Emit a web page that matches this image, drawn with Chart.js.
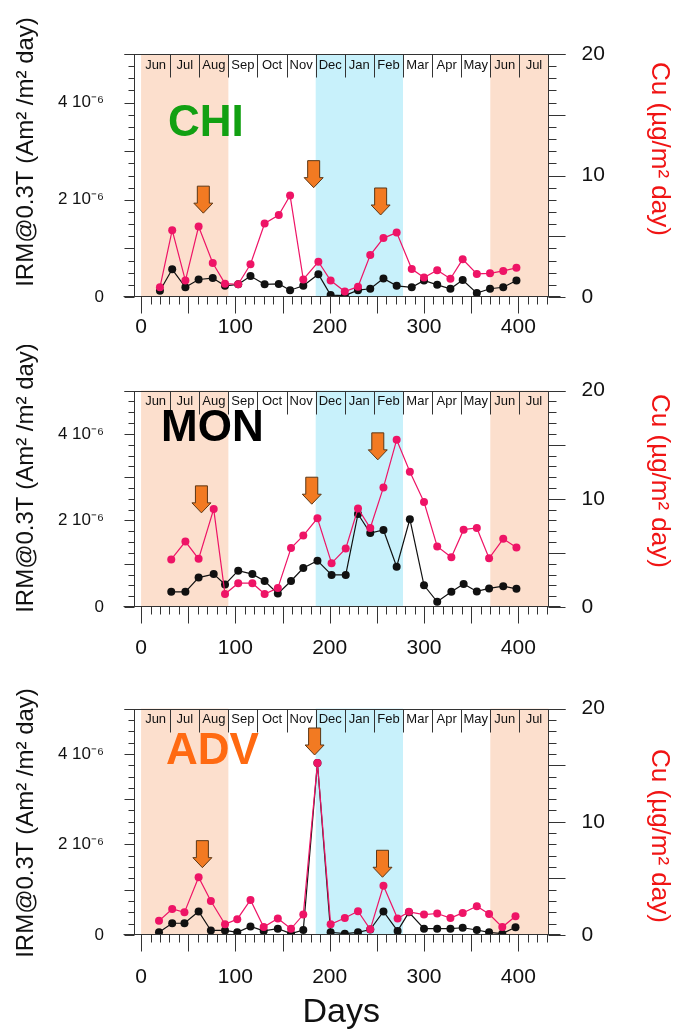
<!DOCTYPE html>
<html>
<head>
<meta charset="utf-8">
<script src="https://cdn.jsdelivr.net/npm/chart.js@4.4.1/dist/chart.umd.min.js"></script>
<style>
html, body { margin: 0; padding: 0; background: #fff; }
#wrap { position: relative; width: 676px; height: 1033px; overflow: hidden; }
canvas { position: absolute; left: 0; }
</style>
</head>
<body>
<div id="wrap">
  <canvas id="chi" width="676" height="345" style="top:0px"></canvas>
  <canvas id="mon" width="676" height="318" style="top:345px"></canvas>
  <canvas id="adv" width="676" height="370" style="top:663px"></canvas>
</div>
<script>
// sampling days and fluxes
// IRM values are in units of 10^-6 Am2/m2/day, Cu in ug/m2/day
const daysCHI = [20, 33, 47, 61, 76, 89, 103, 116, 131, 146, 158, 172, 188, 201, 216, 230, 243, 257, 271, 287, 300, 314, 328, 341, 356, 370, 384, 398];
const cuCHI   = [0.8, 5.5, 1.35, 5.8, 2.8, 1.1, 1.05, 2.7, 6.05, 6.75, 8.35, 1.45, 2.9, 1.35, 0.45, 0.85, 3.45, 4.85, 5.3, 2.3, 1.6, 2.2, 1.5, 3.1, 1.9, 1.95, 2.15, 2.4];
const irmCHI  = [0.13, 0.57, 0.2, 0.36, 0.39, 0.23, 0.26, 0.43, 0.26, 0.27, 0.14, 0.23, 0.47, 0.04, 0.03, 0.14, 0.17, 0.38, 0.23, 0.2, 0.34, 0.25, 0.17, 0.35, 0.08, 0.17, 0.2, 0.34];

const daysMON = [32, 47, 61, 77, 89, 103, 118, 131, 145, 159, 172, 187, 202, 217, 230, 243, 257, 271, 285, 300, 314, 329, 342, 356, 369, 384, 398];
const cuMON   = [4.4, 6.05, 4.45, 9.05, 1.2, 2.2, 2.2, 1.2, 1.75, 5.45, 6.6, 8.2, 4.05, 5.4, 9.1, 7.3, 11.05, 15.45, 12.5, 9.7, 5.6, 4.6, 7.15, 7.3, 4.5, 6.3, 5.5];
const irmMON  = [0.35, 0.35, 0.68, 0.76, 0.52, 0.84, 0.76, 0.6, 0.31, 0.6, 0.9, 1.07, 0.74, 0.74, 2.15, 1.71, 1.78, 0.93, 2.03, 0.5, 0.12, 0.35, 0.53, 0.36, 0.43, 0.48, 0.42];

const daysADV = [19, 33, 46, 61, 74, 89, 102, 116, 130, 145, 159, 172, 187, 201, 216, 230, 243, 257, 272, 284, 300, 314, 328, 341, 356, 369, 383, 397];
const cuADV   = [1.25, 2.3, 2.0, 5.1, 3.0, 0.95, 1.4, 3.1, 0.7, 1.45, 0.55, 1.8, 15.2, 0.95, 1.5, 2.1, 0.5, 4.35, 1.45, 2.05, 1.8, 1.9, 1.5, 1.95, 2.55, 1.85, 0.7, 1.65];
const irmADV  = [0.06, 0.26, 0.26, 0.52, 0.1, 0.1, 0.06, 0.19, 0.09, 0.14, 0.03, 0.11, 3.8, 0.06, 0.03, 0.06, 0.12, 0.52, 0.09, 0.5, 0.14, 0.14, 0.14, 0.16, 0.11, 0.06, 0.03, 0.17];

// arrows: day and Cu value of the tip
const arrowDaysCHI = [66, 183, 254];
const arrowCuCHI   = [6.9, 9.0, 6.75];
const arrowDaysMON = [64, 181, 251];
const arrowCuMON   = [8.7, 9.5, 13.6];
const arrowDaysADV = [65, 184, 256];
const arrowCuADV   = [5.95, 15.9, 5.1];

// axes
const dayTicks = [0, 100, 200, 300, 400];
const irmTicks = [0, 2, 4];
const irmTickLabels = ['0', '2 10\u207B\u2076', '4 10\u207B\u2076'];
const cuTicks = [0, 10, 20];
const months = ['Jun', 'Jul', 'Aug', 'Sep', 'Oct', 'Nov', 'Dec', 'Jan', 'Feb', 'Mar', 'Apr', 'May', 'Jun', 'Jul'];
// shaded periods as [first month index, end month index]
const summerBands = [[0, 3], [12, 14]];
const winterBands = [[6, 9]];

const DAY_MIN = -7.5, DAY_MAX = 432;
const MONTH_LEN = DAY_MAX / months.length;

const FONT = '"Liberation Sans", Arial, Helvetica, sans-serif';
const PINK = '#ee1466';
const PEACH = '#fcdfcd';
const SKY = '#c8f1fb';
const AXIS = '#333';

const decor = {
    id: 'decor',
    beforeDatasetsDraw(chart, args, o) {
        const ctx = chart.ctx, a = chart.chartArea, xs = chart.scales.x;
        ctx.save();
        const band = (b, color) => {
            const x1 = xs.getPixelForValue(b[0] * MONTH_LEN);
            const x2 = xs.getPixelForValue(b[1] * MONTH_LEN);
            ctx.fillStyle = color;
            ctx.fillRect(x1, a.top, x2 - x1, a.bottom - a.top);
        };
        summerBands.forEach(b => band(b, PEACH));
        winterBands.forEach(b => band(b, SKY));
        ctx.restore();
    },
    afterDraw(chart, args, o) {
        const ctx = chart.ctx, a = chart.chartArea;
        const xs = chart.scales.x, yl = chart.scales.yL, yr = chart.scales.yR;
        ctx.save();
        ctx.strokeStyle = AXIS;
        ctx.lineWidth = 1;
        const line = (x1, y1, x2, y2) => {
            ctx.beginPath();
            ctx.moveTo(x1, y1);
            ctx.lineTo(x2, y2);
            ctx.stroke();
        };
        const L = Math.round(a.left) + 0.5, R = Math.round(a.right) - 0.5;
        const T = Math.round(a.top) + 0.5, B = Math.round(a.bottom) - 0.5;

        // frame
        line(L - 11, B, R + 12, B);
        line(L - 10, T, R + 17, T);
        line(L, T, L, B);
        line(R, T, R, B);

        // tick marks
        for (let d = 0; d <= 430; d += 10) {
            const px = Math.round(xs.getPixelForValue(d)) + 0.5;
            line(px, B, px, B + (d % 50 === 0 ? 17 : 8));
        }
        for (let i = 0; i <= 20; i++) {
            const py = Math.round(yl.getPixelForValue(i * 0.25)) + 0.5;
            line(L - (i % 4 === 0 ? 10 : 6), py, L, py);
        }
        for (let i = 0; i <= 20; i++) {
            const py = Math.round(yr.getPixelForValue(i)) + 0.5;
            line(R, py, R + (i % 5 === 0 ? 17 : 8), py);
        }

        // month strip
        ctx.fillStyle = '#111';
        ctx.font = '13px ' + FONT;
        ctx.textAlign = 'center';
        ctx.textBaseline = 'middle';
        months.forEach((m, i) => {
            const x1 = xs.getPixelForValue(i * MONTH_LEN);
            const x2 = xs.getPixelForValue((i + 1) * MONTH_LEN);
            if (i > 0) {
                const px = Math.round(x1) + 0.5;
                line(px, T, px, T + 23);
            }
            ctx.fillText(m, (x1 + x2) / 2, a.top + 11);
        });

        // arrows
        o.arrowDays.forEach((d, i) => {
            const x = xs.getPixelForValue(d);
            const y = yr.getPixelForValue(o.arrowCu[i]);
            ctx.beginPath();
            ctx.moveTo(x - 6, y - 27);
            ctx.lineTo(x + 6, y - 27);
            ctx.lineTo(x + 6, y - 10);
            ctx.lineTo(x + 9.5, y - 10);
            ctx.lineTo(x, y);
            ctx.lineTo(x - 9.5, y - 10);
            ctx.lineTo(x - 6, y - 10);
            ctx.closePath();
            ctx.fillStyle = '#f27a22';
            ctx.fill();
            ctx.strokeStyle = '#5b3716';
            ctx.stroke();
        });

        // site label
        ctx.fillStyle = o.nameColor;
        ctx.font = 'bold 44px ' + FONT;
        ctx.textAlign = 'left';
        ctx.textBaseline = 'alphabetic';
        ctx.fillText(o.name, o.nameX, o.nameY);

        // axis titles
        ctx.font = '24px ' + FONT;
        ctx.textAlign = 'center';
        ctx.textBaseline = 'middle';
        ctx.fillStyle = '#111';
        ctx.translate(26, o.leftTitleY);
        ctx.rotate(-Math.PI / 2);
        ctx.fillText('IRM@0.3T (Am\u00B2 /m\u00B2 day)', 0, 0);
        ctx.setTransform(1, 0, 0, 1, 0, 0);
        ctx.font = '26px ' + FONT;
        ctx.fillStyle = '#f01414';
        ctx.translate(659, o.rightTitleY);
        ctx.rotate(Math.PI / 2);
        ctx.fillText('Cu (\u00B5g/m\u00B2 day)', 0, 0);
        ctx.restore();
    }
};

function makePanel(id, days, cu, irm, p) {
    const canvas = document.getElementById(id);
    const H = canvas.height;
    return new Chart(canvas, {
        type: 'line',
        data: {
            datasets: [{
                label: 'Cu',
                data: days.map((d, i) => ({x: d, y: cu[i]})),
                yAxisID: 'yR',
                borderColor: PINK,
                backgroundColor: PINK,
                borderWidth: 1.2,
                pointRadius: 4,
                pointBorderWidth: 0,
                pointBackgroundColor: PINK,
                tension: 0,
                order: 0
            }, {
                label: 'IRM@0.3T',
                data: days.map((d, i) => ({x: d, y: irm[i]})),
                yAxisID: 'yL',
                borderColor: '#111',
                backgroundColor: '#111',
                borderWidth: 1.2,
                pointRadius: 4,
                pointBorderWidth: 0,
                pointBackgroundColor: '#111',
                tension: 0,
                order: 1
            }]
        },
        options: {
            responsive: false,
            animation: false,
            layout: {padding: {top: p.topPad, left: 0, right: 0, bottom: 0}},
            plugins: {
                legend: {display: false},
                tooltip: {enabled: false},
                decor: p
            },
            scales: {
                x: {
                    type: 'linear',
                    min: DAY_MIN,
                    max: DAY_MAX,
                    afterBuildTicks: s => { s.ticks = dayTicks.map(v => ({value: v})); },
                    afterFit: s => { s.height = H - p.bottom; },
                    grid: {display: false, drawTicks: false},
                    border: {display: false},
                    ticks: {
                        color: '#111',
                        font: {family: FONT, size: 21},
                        padding: p.xPad,
                        maxRotation: 0,
                        autoSkip: false
                    },
                    title: {
                        display: !!p.showDays,
                        text: 'Days',
                        color: '#111',
                        font: {family: FONT, size: 34},
                        padding: {top: 0, bottom: 0}
                    }
                },
                yL: {
                    type: 'linear',
                    position: 'left',
                    min: 0,
                    max: 5,
                    afterBuildTicks: s => { s.ticks = irmTicks.map(v => ({value: v})); },
                    afterFit: s => { s.width = 134; },
                    grid: {display: false, drawTicks: false},
                    border: {display: false},
                    ticks: {
                        color: '#111',
                        font: {family: FONT, size: 17},
                        padding: 30,
                        callback: (v, i) => irmTickLabels[i]
                    }
                },
                yR: {
                    type: 'linear',
                    position: 'right',
                    min: 0,
                    max: 20,
                    afterBuildTicks: s => { s.ticks = cuTicks.map(v => ({value: v})); },
                    afterFit: s => { s.width = 676 - 548.5; },
                    grid: {display: false, drawTicks: false},
                    border: {display: false},
                    ticks: {
                        color: '#111',
                        font: {family: FONT, size: 21},
                        padding: 33
                    }
                }
            }
        },
        plugins: [decor]
    });
}

makePanel('chi', daysCHI, cuCHI, irmCHI, {
    topPad: 54, bottom: 297, xPad: 18,
    arrowDays: arrowDaysCHI, arrowCu: arrowCuCHI,
    name: 'CHI', nameColor: '#12a012', nameX: 168, nameY: 136,
    leftTitleY: 152, rightTitleY: 149
});
makePanel('mon', daysMON, cuMON, irmMON, {
    topPad: 19, bottom: 262, xPad: 29,
    arrowDays: arrowDaysMON, arrowCu: arrowCuMON,
    name: 'MON', nameColor: '#000', nameX: 161, nameY: 96,
    leftTitleY: 133, rightTitleY: 136
});
makePanel('adv', daysADV, cuADV, irmADV, {
    topPad: 30, bottom: 272, xPad: 30, showDays: true,
    arrowDays: arrowDaysADV, arrowCu: arrowCuADV,
    name: 'ADV', nameColor: '#ff6a12', nameX: 166, nameY: 101,
    leftTitleY: 160, rightTitleY: 173
});
</script>
</body>
</html>
